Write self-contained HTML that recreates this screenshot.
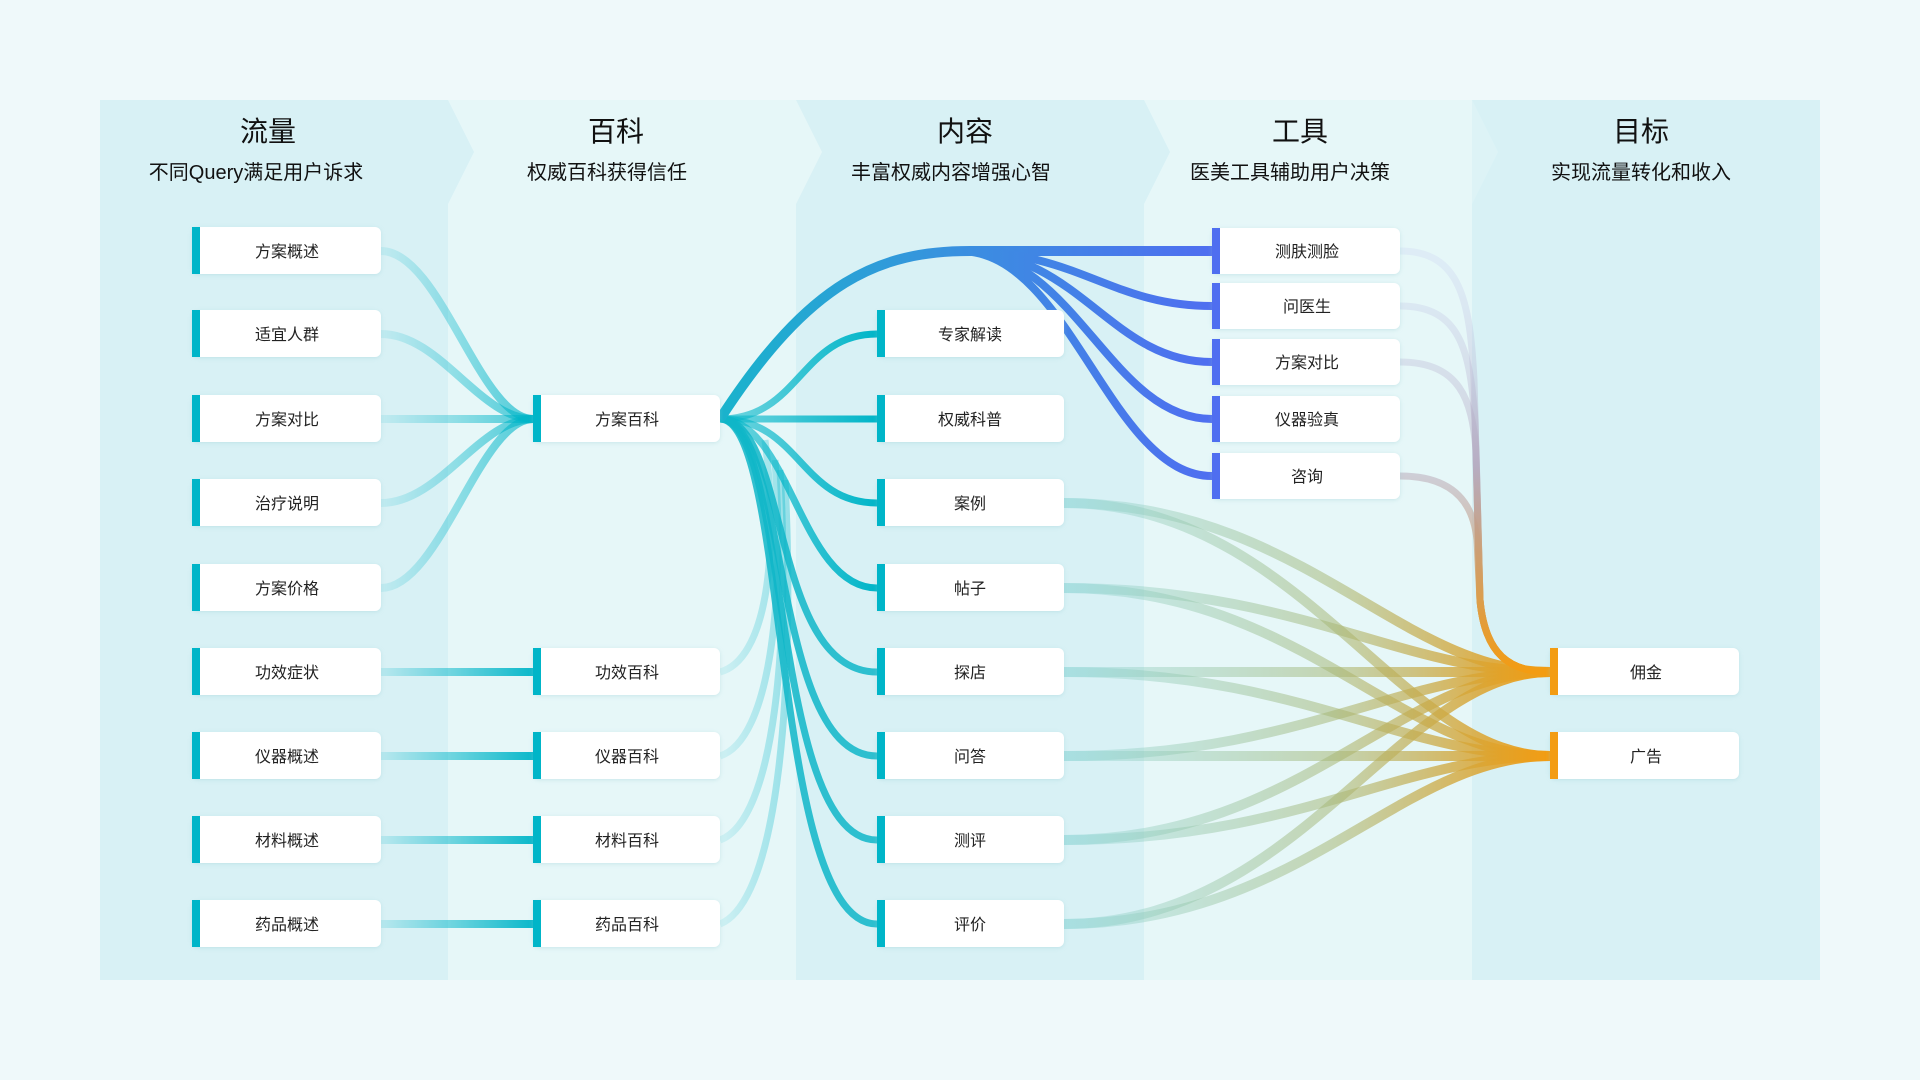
<!DOCTYPE html>
<html><head><meta charset="utf-8"><style>
body{margin:0;width:1920px;height:1080px;background:#eff9fa;overflow:hidden;font-family:"Liberation Sans","Noto Sans CJK SC",sans-serif;}
svg{position:absolute;left:0;top:0}
</style></head><body>
<svg width="1920" height="1080" viewBox="0 0 1920 1080" font-family="Liberation Sans, Noto Sans CJK SC, sans-serif">
<defs>
<linearGradient id="gIn" gradientUnits="userSpaceOnUse" x1="381" y1="0" x2="533" y2="0"><stop offset="0" stop-color="#00b5c8" stop-opacity="0.15"/><stop offset="1" stop-color="#00b5c8" stop-opacity="0.95"/></linearGradient>
<linearGradient id="gC" gradientUnits="userSpaceOnUse" x1="720" y1="0" x2="877" y2="0"><stop offset="0" stop-color="#00b5c8" stop-opacity="0.5"/><stop offset="1" stop-color="#00b5c8" stop-opacity="1"/></linearGradient>
<linearGradient id="gT" gradientUnits="userSpaceOnUse" x1="720" y1="0" x2="1212" y2="0"><stop offset="0" stop-color="#19b3cc"/><stop offset="0.5" stop-color="#3a8fe0"/><stop offset="1" stop-color="#4f6ef0"/></linearGradient>
<linearGradient id="gB" gradientUnits="userSpaceOnUse" x1="960" y1="0" x2="1212" y2="0"><stop offset="0" stop-color="#3a8fe0"/><stop offset="1" stop-color="#4f6ef0"/></linearGradient>
<linearGradient id="gG" gradientUnits="userSpaceOnUse" x1="1064" y1="0" x2="1550" y2="0"><stop offset="0" stop-color="#7ccfd0" stop-opacity="0.3"/><stop offset="0.55" stop-color="#a8b878" stop-opacity="0.55"/><stop offset="1" stop-color="#f39c12" stop-opacity="1"/></linearGradient>
<linearGradient id="gV" gradientUnits="userSpaceOnUse" x1="0" y1="260" x2="0" y2="672"><stop offset="0" stop-color="#c4cdf0" stop-opacity="0.25"/><stop offset="0.5" stop-color="#b0a0b8" stop-opacity="0.45"/><stop offset="1" stop-color="#f39c12"/></linearGradient>
<linearGradient id="gF" gradientUnits="userSpaceOnUse" x1="720" y1="0" x2="790" y2="0"><stop offset="0" stop-color="#00b5c8" stop-opacity="0.1"/><stop offset="1" stop-color="#00b5c8" stop-opacity="0.35"/></linearGradient>
<filter id="sh" x="-10%" y="-20%" width="120%" height="150%"><feDropShadow dx="0" dy="1" stdDeviation="2" flood-color="#8fc7cf" flood-opacity="0.35"/></filter>
</defs>
<rect x="100" y="100" width="348" height="880" fill="#d8f1f5"/>
<rect x="448" y="100" width="348" height="880" fill="#e6f7f8"/>
<rect x="796" y="100" width="348" height="880" fill="#d8f1f5"/>
<rect x="1144" y="100" width="328" height="880" fill="#e6f7f8"/>
<rect x="1472" y="100" width="348" height="880" fill="#d8f1f5"/>
<polygon points="448,100 474,152 448,204" fill="#d8f1f5"/>
<polygon points="796,100 822,152 796,204" fill="#e6f7f8"/>
<polygon points="1144,100 1170,152 1144,204" fill="#d8f1f5"/>
<polygon points="1472,100 1498,152 1472,204" fill="#e6f7f8" opacity="0.4"/>
<g fill="#111" text-anchor="middle">
<text x="268" y="141" font-size="28">流量</text>
<text x="616" y="141" font-size="28">百科</text>
<text x="965" y="141" font-size="28">内容</text>
<text x="1300" y="141" font-size="28">工具</text>
<text x="1641" y="141" font-size="28">目标</text>
<g font-size="20">
<text x="256" y="179">不同Query满足用户诉求</text>
<text x="607" y="179">权威百科获得信任</text>
<text x="951" y="179">丰富权威内容增强心智</text>
<text x="1290" y="179">医美工具辅助用户决策</text>
<text x="1641" y="179">实现流量转化和收入</text>
</g></g>
<g fill="none" stroke="url(#gIn)" stroke-width="8">
<path d="M381,251 C440,251 480,419 533,419" opacity="0.7"/>
<path d="M381,334 C440,334 480,419 533,419" opacity="0.7"/>
<path d="M381,419 L533,419" opacity="0.7"/>
<path d="M381,503 C440,503 480,419 533,419" opacity="0.7"/>
<path d="M381,588 C440,588 480,419 533,419" opacity="0.7"/>
<path d="M381,672 L533,672"/><path d="M381,756 L533,756"/><path d="M381,840 L533,840"/><path d="M381,924 L533,924"/>
</g>
<g fill="none" stroke="url(#gF)" stroke-width="7">
<path d="M720,672 C765,660 780,560 765,440"/>
<path d="M720,756 C770,740 785,600 775,460"/>
<path d="M720,840 C775,820 790,640 780,470"/>
<path d="M720,924 C780,900 795,680 785,480"/>
</g>
<g fill="none" stroke="url(#gC)" stroke-width="7">
<path d="M720,419 C800,419 800,334 877,334"/>
<path d="M720,419 L877,419"/>
<path d="M720,419 C800,419 800,503 877,503"/>
<path d="M720,419 C790,419 800,588 877,588"/>
</g>
<g fill="none" stroke="#0fb6c8" stroke-width="7">
<path d="M720,419 C790,419 770,672 877,672" opacity="0.85"/>
<path d="M720,419 C790,419 770,756 877,756" opacity="0.85"/>
<path d="M720,419 C790,419 770,840 877,840" opacity="0.85"/>
<path d="M720,419 C790,419 770,924 877,924" opacity="0.85"/>
</g>
<path d="M720,419 C810,280 880,251 970,251 L1212,251" fill="none" stroke="url(#gT)" stroke-width="10"/>
<g fill="none" stroke="url(#gB)" stroke-width="8">
<path d="M960,251 C1080,251 1110,306 1212,306"/>
<path d="M960,251 C1080,251 1110,362 1212,362"/>
<path d="M960,251 C1075,251 1110,419 1212,419"/>
<path d="M960,251 C1070,251 1110,476 1212,476"/>
</g>
<g fill="none" stroke="url(#gG)" stroke-width="10">
<path d="M1064,503 C1300,503 1400,672 1550,672"/><path d="M1064,503 C1300,503 1400,756 1550,756"/>
<path d="M1064,588 C1300,588 1400,672 1550,672"/><path d="M1064,588 C1300,588 1400,756 1550,756"/>
<path d="M1064,672 L1550,672"/><path d="M1064,672 C1300,672 1400,756 1550,756"/>
<path d="M1064,756 C1300,756 1400,672 1550,672"/><path d="M1064,756 L1550,756"/>
<path d="M1064,840 C1300,840 1400,672 1550,672"/><path d="M1064,840 C1300,840 1400,756 1550,756"/>
<path d="M1064,924 C1300,924 1400,672 1550,672"/><path d="M1064,924 C1300,924 1400,756 1550,756"/>
</g>
<g fill="none" stroke="url(#gV)" stroke-width="7">
<path d="M1400,251 C1460,251 1470,300 1474,380 L1480,600 C1485,655 1510,672 1550,672"/>
<path d="M1400,306 C1460,306 1470,350 1475,420 L1480,600 C1485,655 1510,672 1550,672"/>
<path d="M1400,362 C1460,362 1472,400 1476,450 L1480,600 C1485,655 1510,672 1550,672"/>
<path d="M1400,476 C1460,476 1474,510 1477,540 L1480,600 C1485,655 1510,672 1550,672"/>
</g>
<g font-size="16" fill="#222" text-anchor="middle">
<g filter="url(#sh)">
<rect x="192" y="227" width="189" height="47" rx="6" fill="#fff"/><rect x="192" y="310" width="189" height="47" rx="6" fill="#fff"/><rect x="192" y="395" width="189" height="47" rx="6" fill="#fff"/><rect x="192" y="479" width="189" height="47" rx="6" fill="#fff"/><rect x="192" y="564" width="189" height="47" rx="6" fill="#fff"/><rect x="192" y="648" width="189" height="47" rx="6" fill="#fff"/><rect x="192" y="732" width="189" height="47" rx="6" fill="#fff"/><rect x="192" y="816" width="189" height="47" rx="6" fill="#fff"/><rect x="192" y="900" width="189" height="47" rx="6" fill="#fff"/>
</g>
<g fill="#00b5c8"><rect x="192" y="227" width="8" height="47"/><rect x="192" y="310" width="8" height="47"/><rect x="192" y="395" width="8" height="47"/><rect x="192" y="479" width="8" height="47"/><rect x="192" y="564" width="8" height="47"/><rect x="192" y="648" width="8" height="47"/><rect x="192" y="732" width="8" height="47"/><rect x="192" y="816" width="8" height="47"/><rect x="192" y="900" width="8" height="47"/></g>
<text x="287" y="257">方案概述</text><text x="287" y="340">适宜人群</text><text x="287" y="425">方案对比</text><text x="287" y="509">治疗说明</text><text x="287" y="594">方案价格</text><text x="287" y="678">功效症状</text><text x="287" y="762">仪器概述</text><text x="287" y="846">材料概述</text><text x="287" y="930">药品概述</text>
<g filter="url(#sh)">
<rect x="533" y="395" width="187" height="47" rx="6" fill="#fff"/><rect x="533" y="648" width="187" height="47" rx="6" fill="#fff"/><rect x="533" y="732" width="187" height="47" rx="6" fill="#fff"/><rect x="533" y="816" width="187" height="47" rx="6" fill="#fff"/><rect x="533" y="900" width="187" height="47" rx="6" fill="#fff"/>
</g>
<g fill="#00b5c8"><rect x="533" y="395" width="8" height="47"/><rect x="533" y="648" width="8" height="47"/><rect x="533" y="732" width="8" height="47"/><rect x="533" y="816" width="8" height="47"/><rect x="533" y="900" width="8" height="47"/></g>
<text x="627" y="425">方案百科</text><text x="627" y="678">功效百科</text><text x="627" y="762">仪器百科</text><text x="627" y="846">材料百科</text><text x="627" y="930">药品百科</text>
<g filter="url(#sh)">
<rect x="877" y="310" width="187" height="47" rx="6" fill="#fff"/><rect x="877" y="395" width="187" height="47" rx="6" fill="#fff"/><rect x="877" y="479" width="187" height="47" rx="6" fill="#fff"/><rect x="877" y="564" width="187" height="47" rx="6" fill="#fff"/><rect x="877" y="648" width="187" height="47" rx="6" fill="#fff"/><rect x="877" y="732" width="187" height="47" rx="6" fill="#fff"/><rect x="877" y="816" width="187" height="47" rx="6" fill="#fff"/><rect x="877" y="900" width="187" height="47" rx="6" fill="#fff"/>
</g>
<g fill="#00b5c8"><rect x="877" y="310" width="8" height="47"/><rect x="877" y="395" width="8" height="47"/><rect x="877" y="479" width="8" height="47"/><rect x="877" y="564" width="8" height="47"/><rect x="877" y="648" width="8" height="47"/><rect x="877" y="732" width="8" height="47"/><rect x="877" y="816" width="8" height="47"/><rect x="877" y="900" width="8" height="47"/></g>
<text x="970" y="340">专家解读</text><text x="970" y="425">权威科普</text><text x="970" y="509">案例</text><text x="970" y="594">帖子</text><text x="970" y="678">探店</text><text x="970" y="762">问答</text><text x="970" y="846">测评</text><text x="970" y="930">评价</text>
<g filter="url(#sh)">
<rect x="1212" y="228" width="188" height="46" rx="6" fill="#fff"/><rect x="1212" y="283" width="188" height="46" rx="6" fill="#fff"/><rect x="1212" y="339" width="188" height="46" rx="6" fill="#fff"/><rect x="1212" y="396" width="188" height="46" rx="6" fill="#fff"/><rect x="1212" y="453" width="188" height="46" rx="6" fill="#fff"/>
</g>
<g fill="#4f6ef0"><rect x="1212" y="228" width="8" height="46"/><rect x="1212" y="283" width="8" height="46"/><rect x="1212" y="339" width="8" height="46"/><rect x="1212" y="396" width="8" height="46"/><rect x="1212" y="453" width="8" height="46"/></g>
<text x="1307" y="257">测肤测脸</text><text x="1307" y="312">问医生</text><text x="1307" y="368">方案对比</text><text x="1307" y="425">仪器验真</text><text x="1307" y="482">咨询</text>
<g filter="url(#sh)">
<rect x="1550" y="648" width="189" height="47" rx="6" fill="#fff"/><rect x="1550" y="732" width="189" height="47" rx="6" fill="#fff"/>
</g>
<g fill="#f39c12"><rect x="1550" y="648" width="8" height="47"/><rect x="1550" y="732" width="8" height="47"/></g>
<text x="1646" y="678">佣金</text><text x="1646" y="762">广告</text>
</g>
</svg>
</body></html>
